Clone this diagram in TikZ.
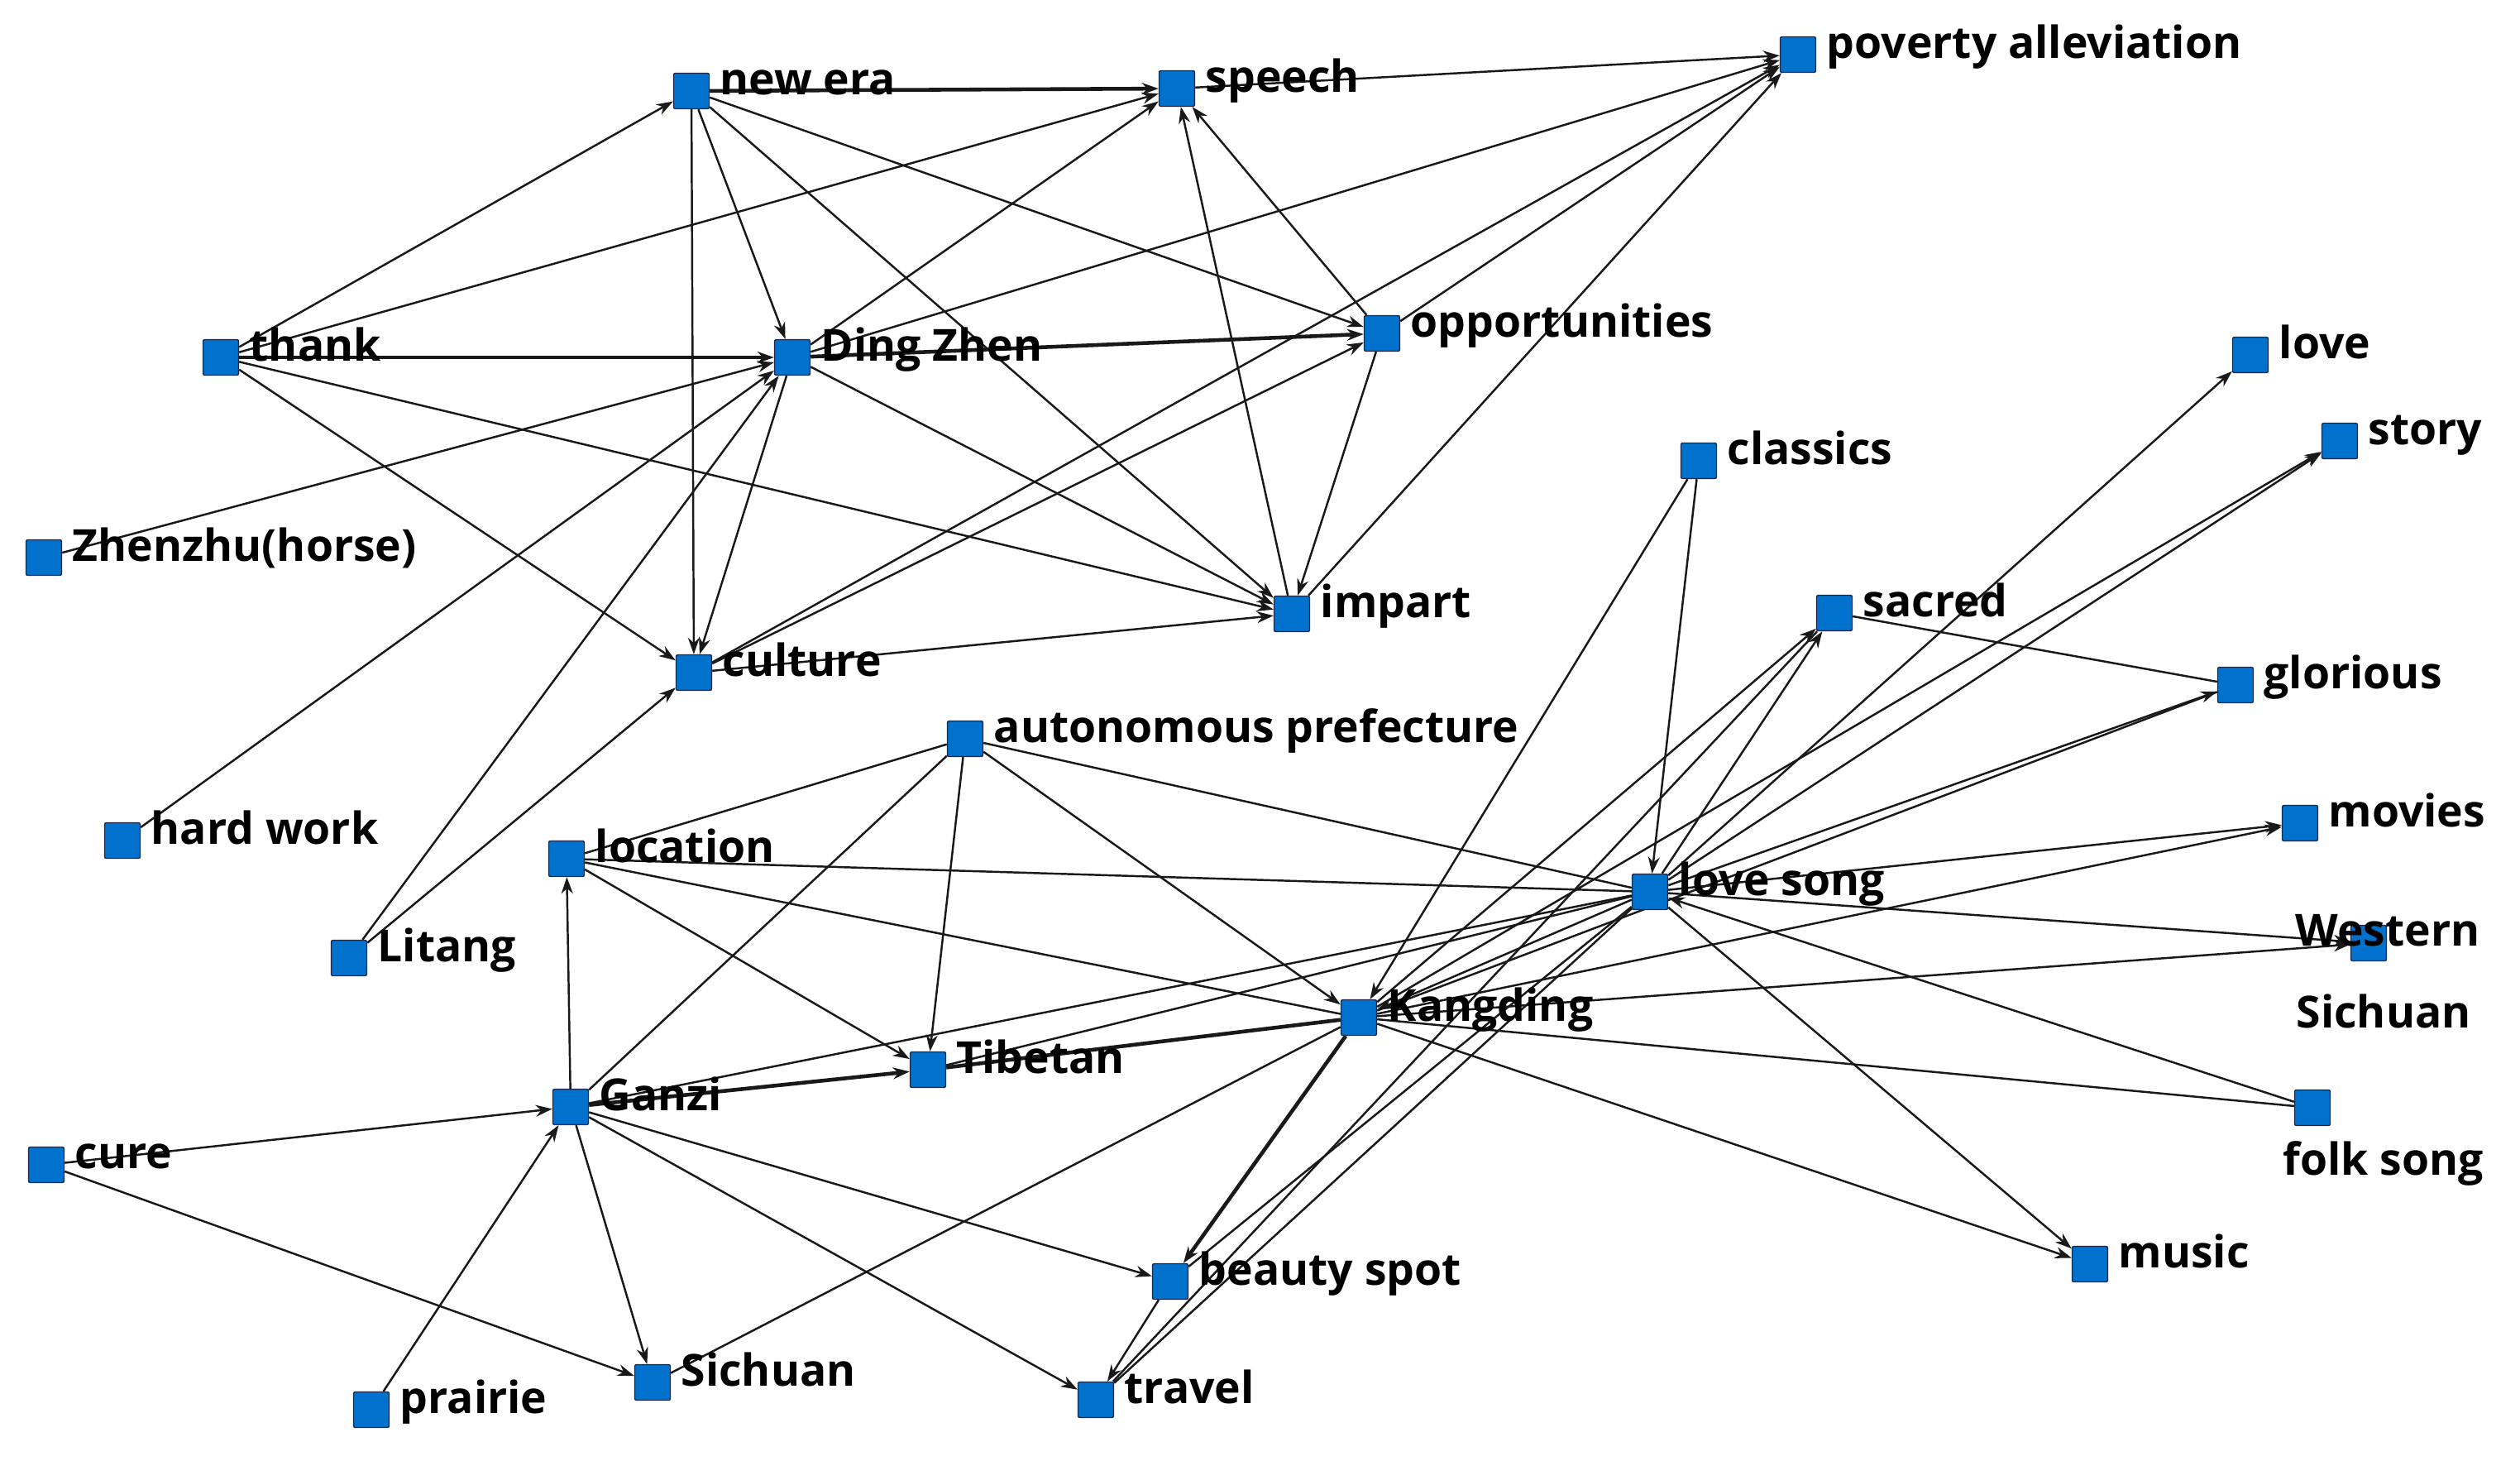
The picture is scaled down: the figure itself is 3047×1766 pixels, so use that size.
\documentclass[tikz,border=0pt]{standalone}
\usepackage{fontspec}
\setmainfont{Open Sans}
\usetikzlibrary{arrows.meta}
\definecolor{nodeblue}{RGB}{0,114,206}
\definecolor{nodeedge}{RGB}{30,40,70}
\pgfdeclarelayer{bg}
\pgfdeclarelayer{edges}
\pgfsetlayers{bg,edges,main}
\begin{document}
\begin{tikzpicture}[x=0.01cm,y=-0.01cm,
  vtx/.style={draw=nodeedge, line width=0.4pt, fill=nodeblue, minimum size=0.43cm, inner sep=0pt, rounded corners=0.6pt},
  lbl/.style={font=\bfseries\fontsize{15.2}{18}\selectfont, inner sep=0pt, anchor=base west},
  edge/.style={line width=0.7pt, draw=black!90},
  arr/.style={edge, -{Stealth[length=0.2cm,width=0.14cm]}},
  thk/.style={line width=1.3pt}]
\begin{pgfonlayer}{bg}
\fill[white] (0,0) rectangle (3047,1766);
\end{pgfonlayer}
\useasboundingbox (0,0) rectangle (3047,1766);

% nodes
\node[vtx] (newera)   at (836,110) {};
\node[vtx] (speech)   at (1423,107) {};
\node[vtx] (poverty)  at (2174,66) {};
\node[vtx] (thank)    at (267,432) {};
\node[vtx] (dingzhen) at (958,432) {};
\node[vtx] (opp)      at (1671,403) {};
\node[vtx] (love)     at (2721,429) {};
\node[vtx] (story)    at (2829,533) {};
\node[vtx] (classics) at (2054,557) {};
\node[vtx] (zhenzhu)  at (53,674) {};
\node[vtx] (impart)   at (1562,742) {};
\node[vtx] (sacred)   at (2218,741) {};
\node[vtx] (culture)  at (839,813) {};
\node[vtx] (glorious) at (2703,828) {};
\node[vtx] (auto)     at (1167,893) {};
\node[vtx] (hardwork) at (148,1016) {};
\node[vtx] (movies)   at (2781,995) {};
\node[vtx] (location) at (685,1038) {};
\node[vtx] (lovesong) at (1995,1078) {};
\node[vtx] (western)  at (2864,1140) {};
\node[vtx] (litang)   at (422,1158) {};
\node[vtx] (kangding) at (1643,1230) {};
\node[vtx] (tibetan)  at (1122,1293) {};
\node[vtx] (ganzi)    at (690,1338) {};
\node[vtx] (folksong) at (2796,1339) {};
\node[vtx] (cure)     at (56,1408) {};
\node[vtx] (music)    at (2527,1528) {};
\node[vtx] (beauty)   at (1415,1549) {};
\node[vtx] (sichuan)  at (789,1671) {};
\node[vtx] (travel)   at (1325,1692) {};
\node[vtx] (prairie)  at (449,1704) {};

% labels
\foreach \n/\t in {newera/new era, speech/speech, poverty/poverty alleviation, thank/thank,
  dingzhen/Ding Zhen, opp/opportunities, love/love, story/story, classics/classics,
  zhenzhu/Zhenzhu(horse), impart/impart, sacred/sacred, culture/culture, glorious/glorious,
  auto/autonomous prefecture, hardwork/hard work, movies/movies, location/location,
  lovesong/love song, litang/Litang, kangding/Kangding, tibetan/Tibetan, ganzi/Ganzi,
  cure/cure, music/music, beauty/beauty spot, sichuan/Sichuan, travel/travel, prairie/prairie}
  \node[lbl] (\n-l) at ([xshift=0.34cm,yshift=-0.04cm]\n.center) {\t};
\node[lbl] (western-l1) at (2775,1143) {Western};
\node[lbl] (western-l2) at (2776,1242) {Sichuan};
\node[lbl] (folksong-l) at (2760,1420) {folk song};

\begin{pgfonlayer}{edges}
% upper cluster
\draw[arr,thk] (newera) -- (speech);
\draw[arr] (newera) -- (dingzhen);
\draw[arr] (newera) -- (culture);
\draw[arr] (newera) -- (opp);
\draw[arr] (newera) -- (impart);
\draw[arr] (thank) -- (newera);
\draw[arr] (thank) -- (speech);
\draw[arr,thk] (thank) -- (dingzhen);
\draw[arr] (thank) -- (culture);
\draw[arr] (thank) -- (impart);
\draw[arr] (zhenzhu) -- (dingzhen);
\draw[arr] (hardwork) -- (dingzhen);
\draw[arr] (litang) -- (dingzhen);
\draw[arr] (litang) -- (culture);
\draw[arr] (dingzhen) -- (speech);
\draw[arr,thk] (dingzhen) -- (opp);
\draw[arr] (dingzhen) -- (poverty);
\draw[arr] (dingzhen) -- (culture);
\draw[arr] (dingzhen) -- (impart);
\draw[arr] (speech) -- (poverty);
\draw[arr] (opp) -- (speech);
\draw[arr] (opp) -- (impart);
\draw[arr] (opp) -- (poverty);
\draw[arr] (impart) -- (speech);
\draw[arr] (impart) -- (poverty);
\draw[arr] (culture) -- (impart);
\draw[arr] (culture) -- (opp);
\draw[arr] (culture) -- (poverty);
% lower cluster
\draw[edge] (auto) -- (location);
\draw[arr] (auto) -- (tibetan);
\draw[arr] (auto) -- (kangding);
\draw[edge] (auto) -- (lovesong);
\draw[edge] (auto) -- (ganzi);
\draw[edge] (location) -- (lovesong);
\draw[edge] (location) -- (kangding);
\draw[arr] (location) -- (tibetan);
\draw[arr] (ganzi) -- (location);
\draw[arr] (cure) -- (ganzi);
\draw[arr] (cure) -- (sichuan);
\draw[arr] (prairie) -- (ganzi);
\draw[arr] (ganzi) -- (sichuan);
\draw[arr,thk] (ganzi) -- (tibetan);
\draw[edge] (ganzi) -- (lovesong);
\draw[arr] (ganzi) -- (beauty);
\draw[arr] (ganzi) -- (travel);
\draw[edge,thk] (tibetan) -- (kangding);
\draw[edge] (tibetan) -- (lovesong);
\draw[edge] (sichuan) -- (kangding);
\draw[arr] (classics) -- (lovesong);
\draw[arr] (classics) -- (kangding);
\draw[arr,thk] (kangding) -- (beauty);
\draw[arr] (beauty) -- (travel);
\draw[edge] (lovesong) -- (beauty);
\draw[edge] (lovesong) -- (travel);
\draw[arr] (lovesong) -- (kangding);
\draw[arr] (kangding) -- (sacred);
\draw[arr] (lovesong) -- (sacred);
\draw[edge] (travel) -- (sacred);
\draw[edge] (sacred) -- (glorious);
\draw[arr] (lovesong) -- (love);
\draw[arr] (lovesong) -- (story);
\draw[arr] (kangding) -- (story);
\draw[arr] (lovesong) -- (glorious);
\draw[edge] (kangding) -- (glorious);
\draw[arr] (lovesong) -- (movies);
\draw[arr] (kangding) -- (movies);
\draw[arr] (lovesong) -- (western);
\draw[arr] (kangding) -- (western);
\draw[arr] (folksong) -- (lovesong);
\draw[edge] (kangding) -- (folksong);
\draw[arr] (lovesong) -- (music);
\draw[arr] (kangding) -- (music);
\end{pgfonlayer}
\end{tikzpicture}
\end{document}
